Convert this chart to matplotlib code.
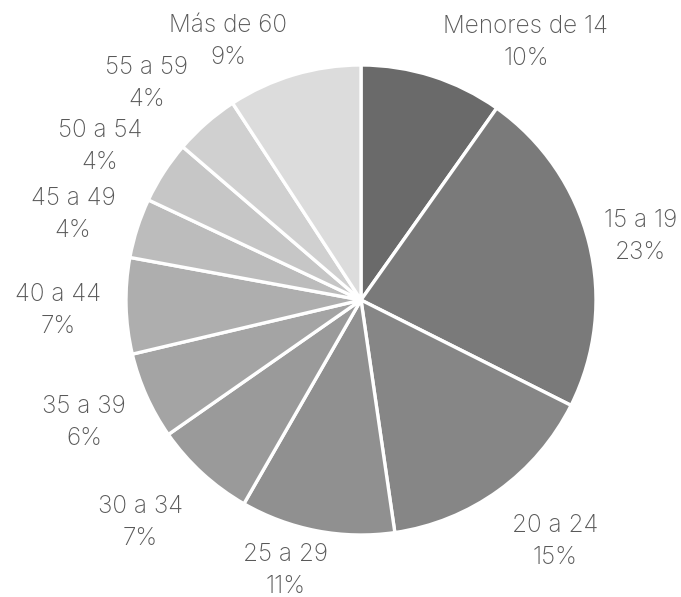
import matplotlib
matplotlib.use('Agg')
import matplotlib.pyplot as plt

# datos del gráfico (porcentajes estimados; etiquetas redondeadas como en el original)
categories = ['Menores de 14', '15 a 19', '20 a 24', '25 a 29', '30 a 34', '35 a 39',
              '40 a 44', '45 a 49', '50 a 54', '55 a 59', 'Más de 60']
values = [9.8, 22.6, 15.3, 10.6, 7.0, 6.0, 6.6, 4.1, 4.3, 4.5, 9.2]
pct_labels = ['10%', '23%', '15%', '11%', '7%', '6%', '7%', '4%', '4%', '4%', '9%']
colors = ['#6a6a6a', '#7a7a7a', '#868686', '#909090', '#9a9a9a', '#a4a4a4',
          '#aeaeae', '#bcbcbc', '#c6c6c6', '#d0d0d0', '#dcdcdc']

# posición de cada etiqueta (unidades del eje, radio del pastel = 1)
label_xy = [(0.702, 1.094), (1.19, 0.272), (0.826, -1.026), (-0.323, -1.149),
            (-0.940, -0.945), (-1.179, -0.523), (-1.289, -0.043), (-1.226, 0.362),
            (-1.111, 0.655), (-0.911, 0.923), (-0.566, 1.102)]

plt.rcParams['font.family'] = ['Inter', 'DejaVu Sans']

fig = plt.figure(figsize=(6.81, 5.97), dpi=100)
ax = fig.add_axes([(361 - 235) / 681, (597 - 535) / 597, 470 / 681, 470 / 597])

wedges, _ = ax.pie(values, colors=colors, startangle=90, counterclock=False,
                   radius=1.0, wedgeprops=dict(edgecolor='white', linewidth=2.4))

for cat, pct, (x, y) in zip(categories, pct_labels, label_xy):
    ax.text(x, y, f'{cat}\n{pct}', ha='center', va='center', color='#595959',
            fontsize=17.5, fontweight='light', linespacing=1.5, clip_on=False)

ax.set_xlim(-1, 1)
ax.set_ylim(-1, 1)
ax.set_aspect('equal')

plt.savefig('out.png', dpi=100)
plt.close()
